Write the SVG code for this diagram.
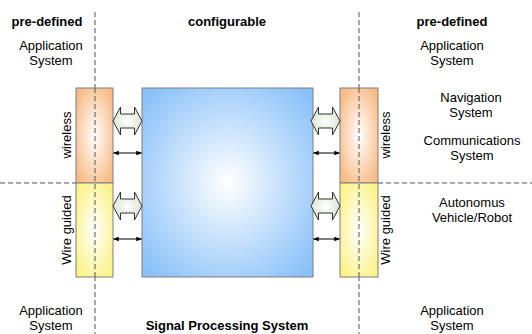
<svg xmlns="http://www.w3.org/2000/svg" width="532" height="334" viewBox="0 0 532 334">
  <style>
    text { font-family: "Liberation Sans", Arial, sans-serif; font-size: 13px; fill: #000; }
    .b { font-weight: bold; }
    .c { text-anchor: middle; }
    .dash { stroke: #555; stroke-width: 1; stroke-dasharray: 5 3; fill: none; }
    .box { stroke: #7f7f7f; stroke-width: 1; }
    .big { fill: url(#gArrow); stroke: #333; stroke-width: 1; }
    .small { stroke: #000; stroke-width: 1; fill: none; marker-start: url(#ah); marker-end: url(#ah); }
  </style>
  <defs>
    <radialGradient id="gBlue" cx="0.5" cy="0.5" r="0.65">
      <stop offset="0" stop-color="#ffffff"/>
      <stop offset="1" stop-color="#8ac1f9"/>
    </radialGradient>
    <radialGradient id="gOrange" cx="0.5" cy="0.5" r="0.6">
      <stop offset="0" stop-color="#ffffff"/>
      <stop offset="1" stop-color="#f8bc88"/>
    </radialGradient>
    <radialGradient id="gYellow" cx="0.5" cy="0.5" r="0.6">
      <stop offset="0" stop-color="#ffffff"/>
      <stop offset="1" stop-color="#fbf38a"/>
    </radialGradient>
    <radialGradient id="gArrow" cx="0.5" cy="0.5" r="0.6">
      <stop offset="0" stop-color="#ffffff"/>
      <stop offset="1" stop-color="#d6dfcb"/>
    </radialGradient>
    <marker id="ah" viewBox="0 0 8 8" refX="7" refY="4" markerWidth="6" markerHeight="6" orient="auto-start-reverse" markerUnits="userSpaceOnUse">
      <path d="M0,1 L8,4 L0,7 Z" fill="#000"/>
    </marker>
    <!-- hollow double-headed arrow spanning x 0..29, centred on y 0 -->
    <path id="dbl" d="M0,0 L7.5,-14 L7.5,-7 L21.5,-7 L21.5,-14 L29,0 L21.5,14 L21.5,7 L7.5,7 L7.5,14 Z"/>
  </defs>

  <!-- divider lines -->
  <g id="dividers">
    <line class="dash" x1="95" y1="12" x2="95" y2="334"/>
    <line class="dash" x1="359" y1="12" x2="359" y2="334"/>
    <line class="dash" x1="0" y1="183" x2="76" y2="183"/>
    <line class="dash" x1="378" y1="183" x2="532" y2="183"/>
  </g>

  <!-- signal processing block -->
  <g id="sps">
    <rect class="box" x="142" y="88" width="171" height="189" fill="url(#gBlue)"/>
  </g>

  <!-- left interface column -->
  <g id="left-wireless">
    <rect class="box" x="76" y="88" width="37" height="95" fill="url(#gOrange)"/>
    <text class="c" transform="translate(71,135) rotate(-90)">wireless</text>
  </g>
  <g id="left-wire">
    <rect class="box" x="76" y="183" width="37" height="94" fill="url(#gYellow)"/>
    <text class="c" transform="translate(71,230) rotate(-90)">Wire guided</text>
  </g>

  <!-- right interface column -->
  <g id="right-wireless">
    <rect class="box" x="340" y="88" width="38" height="95" fill="url(#gOrange)"/>
    <text class="c" transform="translate(390,135) rotate(-90)">wireless</text>
  </g>
  <g id="right-wire">
    <rect class="box" x="340" y="183" width="38" height="94" fill="url(#gYellow)"/>
    <text class="c" transform="translate(390,230) rotate(-90)">Wire guided</text>
  </g>

  <!-- dividing line drawn over the columns -->
  <g id="column-dividers">
    <line class="dash" x1="95" y1="88" x2="95" y2="277"/>
    <line class="dash" x1="359" y1="88" x2="359" y2="277"/>
  </g>

  <!-- connectors -->
  <g id="connectors">
    <use href="#dbl" class="big" transform="translate(113,121)"/>
    <use href="#dbl" class="big" transform="translate(113,206)"/>
    <use href="#dbl" class="big" transform="translate(311,121)"/>
    <use href="#dbl" class="big" transform="translate(311,206)"/>
    <line class="small" x1="113.5" y1="153" x2="141.5" y2="153"/>
    <line class="small" x1="113.5" y1="239" x2="141.5" y2="239"/>
    <line class="small" x1="313.5" y1="153" x2="339.5" y2="153"/>
    <line class="small" x1="313.5" y1="239" x2="339.5" y2="239"/>
  </g>

  <!-- headings -->
  <g id="headings">
    <text class="b c" x="47" y="26">pre-defined</text>
    <text class="b c" x="227" y="26">configurable</text>
    <text class="b c" x="452" y="26">pre-defined</text>
    <text class="b c" x="227" y="330">Signal Processing System</text>
  </g>

  <!-- application labels -->
  <g id="app-top-left">
    <text class="c" x="51" y="50">Application</text>
    <text class="c" x="51" y="65">System</text>
  </g>
  <g id="app-top-right">
    <text class="c" x="452" y="50">Application</text>
    <text class="c" x="452" y="65">System</text>
  </g>
  <g id="navigation">
    <text class="c" x="471" y="102">Navigation</text>
    <text class="c" x="471" y="117">System</text>
  </g>
  <g id="communications">
    <text class="c" x="472" y="145">Communications</text>
    <text class="c" x="472" y="160">System</text>
  </g>
  <g id="vehicle">
    <text class="c" x="472" y="207">Autonomus</text>
    <text class="c" x="472" y="222">Vehicle/Robot</text>
  </g>
  <g id="app-bottom-left">
    <text class="c" x="51" y="315">Application</text>
    <text class="c" x="51" y="330">System</text>
  </g>
  <g id="app-bottom-right">
    <text class="c" x="452" y="315">Application</text>
    <text class="c" x="452" y="330">System</text>
  </g>
</svg>
